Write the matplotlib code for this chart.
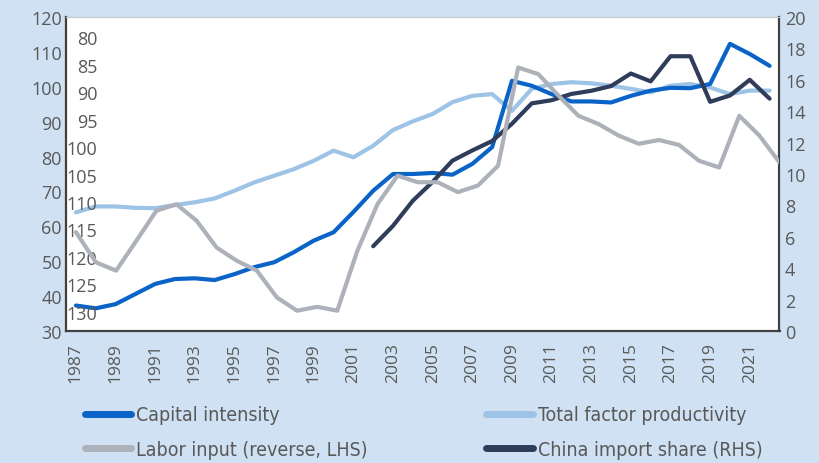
import matplotlib.pyplot as plt

# Data
years = list(range(1987, 2023))

capital = [37.3, 36.5, 37.7, 40.6, 43.5, 44.9, 45.1, 44.6, 46.3, 48.3,
           49.7, 52.6, 55.9, 58.3, 64.1, 70.2, 75.0, 75.0, 75.3, 74.8,
           77.9, 82.7, 101.7, 100.3, 97.9, 95.8, 95.8, 95.5, 97.4, 98.9,
           99.7, 99.6, 100.8, 112.3, 109.4, 106.0]

tfp = [64.0, 65.7, 65.7, 65.3, 65.2, 66.1, 66.9, 68.0, 70.2, 72.6,
       74.5, 76.4, 78.8, 81.7, 79.8, 83.1, 87.6, 90.1, 92.2, 95.6,
       97.4, 97.9, 93.1, 99.4, 100.8, 101.3, 101.0, 100.3, 99.4, 98.4,
       100.3, 100.8, 99.8, 97.9, 98.9, 98.9]

labor = [115.5, 121.0, 122.5, 117.1, 111.6, 110.4, 113.4, 118.3, 120.7, 122.5,
         127.4, 129.8, 129.1, 129.8, 118.9, 110.4, 105.2, 106.4, 106.4, 108.2,
         107.0, 103.4, 85.5, 86.7, 90.6, 94.3, 95.8, 97.9, 99.4, 98.7,
         99.6, 102.5, 103.7, 94.3, 97.9, 102.8]

china_years = list(range(2002, 2023))
china = [5.4, 6.7, 8.3, 9.5, 10.85, 11.5, 12.1, 13.2, 14.5, 14.7,
         15.1, 15.3, 15.6, 16.4, 15.9, 17.5, 17.5, 14.6, 15.0, 16.0, 14.8]

labels = ["Capital intensity", "Total factor productivity",
          "Labor input (reverse, LHS)", "China import share (RHS)"]

bg = "#cfe1f3"
tick_col = "#595959"
c_cap = "#0a64c8"
c_tfp = "#9dc3e6"
c_lab = "#adb1ba"
c_chn = "#2f3d5a"

plt.rcParams['font.family'] = ['Open Sans', 'DejaVu Sans']

fig = plt.figure(figsize=(8.2, 4.64), dpi=100, facecolor=bg)
pos = [66 / 820, 1 - 332 / 464, 713.5 / 820, 314 / 464]

ax = fig.add_axes(pos)
ax.set_facecolor("white")
l_tfp, = ax.plot(years, tfp, color=c_tfp, lw=3, solid_capstyle='round')
l_cap, = ax.plot(years, capital, color=c_cap, lw=3, solid_capstyle='round')
ax.set_xlim(1986.5, 2022.5)
ax.set_ylim(30, 120)
ax.set_yticks(range(30, 121, 10))
ax.set_xticks(range(1987, 2022, 2))
ax.tick_params(axis='y', length=0, pad=3, labelsize=13, labelcolor=tick_col)
ax.tick_params(axis='x', length=0, pad=8, labelsize=12.5, labelcolor=tick_col,
               labelrotation=90)
for s in ['left', 'bottom', 'right']:
    ax.spines[s].set_color("#404040")
    ax.spines[s].set_linewidth(1.6)
ax.spines['top'].set_color("#c8c8c8")
ax.spines['top'].set_linewidth(0.8)

# right axis: China import share
ax2 = ax.twinx()
l_chn, = ax2.plot(china_years, china, color=c_chn, lw=3, solid_capstyle='round')
ax2.set_ylim(0, 20)
ax2.set_yticks(range(0, 21, 2))
ax2.tick_params(axis='y', length=0, pad=4, labelsize=13, labelcolor=tick_col)
for s in ax2.spines.values():
    s.set_visible(False)

# inner reversed axis: labor input
ax3 = fig.add_axes(pos, frameon=False)
l_lab, = ax3.plot(years, labor, color=c_lab, lw=3, solid_capstyle='round')
ax3.set_xlim(1986.507, 2022.0)
ax3.set_ylim(133.5, 76.3)
ax3.set_xticks([])
ax3.set_yticks(range(80, 131, 5))
ax3.tick_params(axis='y', length=0, pad=-22.5, labelsize=13, labelcolor=tick_col)
ax3.patch.set_visible(False)

leg = fig.legend([l_cap, l_lab, l_tfp, l_chn],
                 [labels[0], labels[2], labels[1], labels[3]],
                 ncol=2, loc='upper left', bbox_to_anchor=(67 / 820, 1 - 389 / 464),
                 frameon=False, handlelength=2.4, handletextpad=0.25,
                 columnspacing=6.1, labelspacing=0.78,
                 prop={'family': 'DejaVu Sans', 'stretch': 'condensed', 'size': 14},
                 labelcolor=tick_col)
for h in leg.legend_handles:
    h.set_linewidth(5)

fig.savefig("out.png", dpi=100, facecolor=bg)
